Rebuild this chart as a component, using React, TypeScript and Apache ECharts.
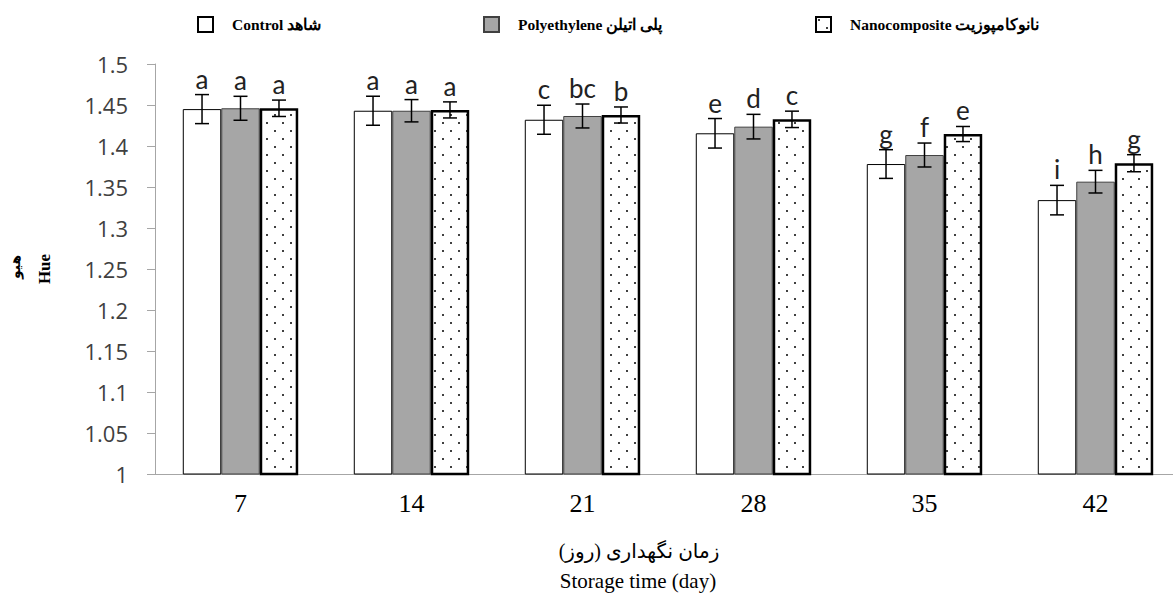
import React, { useEffect, useRef } from "react";
import * as echarts from "echarts";

const categories = ["7", "14", "21", "28", "35", "42"];
const seriesNames = ["Control شاهد", "Polyethylene پلی اتیلن", "Nanocomposite نانوکامپوزیت"];
const controlValues = [1.445, 1.443, 1.432, 1.4155, 1.378, 1.334];
const polyValues = [1.446, 1.443, 1.4366, 1.4236, 1.389, 1.3565];
const nanoValues = [1.446, 1.444, 1.4378, 1.4325, 1.4146, 1.379];
const controlErr = [0.0177, 0.0177, 0.0177, 0.018, 0.0175, 0.018];
const polyErr = [0.0146, 0.0136, 0.0146, 0.015, 0.0146, 0.0138];
const nanoErr = [0.01, 0.0098, 0.0098, 0.01, 0.0092, 0.0104];
const controlLetters = ["a", "a", "c", "e", "g", "i"];
const polyLetters = ["a", "a", "bc", "d", "f", "h"];
const nanoLetters = ["a", "a", "b", "c", "e", "g"];
const yTicks = { min: 1, max: 1.5, interval: 0.05 };

const allValues = [controlValues, polyValues, nanoValues];
const allErr = [controlErr, polyErr, nanoErr];
const allLetters = [controlLetters, polyLetters, nanoLetters];

const dotSvg =
  "<svg xmlns='http://www.w3.org/2000/svg' width='16' height='16'><rect width='16' height='16' fill='white'/><circle cx='3' cy='3' r='1' fill='black'/><circle cx='11' cy='11' r='1' fill='black'/></svg>";
const dotUrl = "data:image/svg+xml;charset=utf-8," + encodeURIComponent(dotSvg);

const BAR_FRAC = 0.225;

export default function App() {
  const ref = useRef<HTMLDivElement>(null);
  useEffect(() => {
    document.body.style.margin = "0";
    document.body.style.overflow = "hidden";
    const chart = echarts.init(ref.current!, null, { renderer: "svg" });

    const errData: number[][] = [];
    for (let s = 0; s < 3; s++) {
      for (let c = 0; c < categories.length; c++) {
        errData.push([c, s, allValues[s][c], allErr[s][c]]);
      }
    }

    const itemStyles = [
      { color: "#ffffff", borderColor: "#000000", borderWidth: 1 },
      { color: "#a6a6a6", borderColor: "#404040", borderWidth: 1 },
      {
        color: { image: dotUrl, repeat: "repeat", imageWidth: 16, imageHeight: 16 },
        borderColor: "#000000",
        borderWidth: 2.5,
      },
    ];

    const legendBase = {
      top: 16,
      padding: 0,
      itemWidth: 15,
      itemHeight: 15,
      icon: "rect",
      textStyle: {
        fontFamily: "Liberation Serif",
        fontWeight: "bold",
        fontSize: 15.5,
        color: "#000",
        padding: [0, 0, 0, 14],
      },
    };

    const option: any = {
      animation: false,
      legend: [
        { ...legendBase, left: 197, data: [seriesNames[0]] },
        { ...legendBase, left: 483, data: [seriesNames[1]] },
        { ...legendBase, left: 815, data: [seriesNames[2]] },
      ],
      grid: { left: 155, top: 64, right: 0, bottom: 122 },
      xAxis: {
        type: "category",
        data: categories,
        axisLine: { lineStyle: { color: "#a6a6a6", width: 1 } },
        axisTick: { length: 9, lineStyle: { color: "#a6a6a6" } },
        axisLabel: {
          fontFamily: "Liberation Serif",
          fontSize: 26,
          color: "#000",
          margin: 16,
        },
      },
      yAxis: {
        type: "value",
        min: yTicks.min,
        max: yTicks.max,
        interval: yTicks.interval,
        splitLine: { show: false },
        axisLine: { show: true, lineStyle: { color: "#a6a6a6", width: 1 } },
        axisTick: { show: true, length: 8, lineStyle: { color: "#a6a6a6" } },
        axisLabel: {
          fontFamily: "Open Sans",
          fontSize: 22,
          color: "#404040",
          margin: 27,
          formatter: (v: number) => String(parseFloat(v.toFixed(2))),
        },
      },
      graphic: [
        {
          type: "text",
          x: 639,
          y: 551,
          style: {
            text: "زمان نگهداری (روز)",
            fontFamily: "Liberation Serif, DejaVu Sans",
            fontSize: 20,
            fill: "#000",
            align: "center",
            verticalAlign: "middle",
          },
        },
        {
          type: "text",
          x: 638,
          y: 581,
          style: {
            text: "Storage time (day)",
            fontFamily: "Liberation Serif",
            fontSize: 21,
            fill: "#000",
            align: "center",
            verticalAlign: "middle",
          },
        },
        {
          type: "text",
          x: 15,
          y: 267,
          rotation: Math.PI / 2,
          style: {
            text: "هیو",
            fontFamily: "DejaVu Sans",
            fontWeight: "bold",
            fontSize: 14,
            fill: "#000",
            align: "center",
            verticalAlign: "middle",
          },
        },
        {
          type: "text",
          x: 44,
          y: 269,
          rotation: Math.PI / 2,
          style: {
            text: "Hue",
            fontFamily: "Liberation Serif",
            fontWeight: "bold",
            fontSize: 17,
            fill: "#000",
            align: "center",
            verticalAlign: "middle",
          },
        },
      ],
      series: [
        ...allValues.map((vals, i) => ({
          type: "bar",
          name: seriesNames[i],
          data: vals,
          barWidth: BAR_FRAC * 100 + "%",
          barGap: "0%",
          itemStyle: itemStyles[i],
          emphasis: { disabled: true },
        })),
        {
          type: "custom",
          name: "errors",
          data: errData,
          z: 10,
          silent: true,
          renderItem: (params: any, api: any) => {
            const c = api.value(0);
            const s = api.value(1);
            const v = api.value(2);
            const e = api.value(3);
            const band = api.size([1, 0])[0];
            const bw = band * BAR_FRAC;
            const center = api.coord([c, v]);
            const x = center[0] + (s - 1) * bw;
            const yTop = api.coord([c, v + e])[1];
            const yBot = api.coord([c, v - e])[1];
            const cap = 7;
            const ls = { stroke: "#000", lineWidth: 1.5 };
            return {
              type: "group",
              children: [
                { type: "line", shape: { x1: x, y1: yTop, x2: x, y2: yBot }, style: ls },
                { type: "line", shape: { x1: x - cap, y1: yTop, x2: x + cap, y2: yTop }, style: ls },
                { type: "line", shape: { x1: x - cap, y1: yBot, x2: x + cap, y2: yBot }, style: ls },
                {
                  type: "text",
                  x: x,
                  y: yTop - 3,
                  style: {
                    text: allLetters[s][c],
                    fontFamily: "Lato",
                    fontSize: 26,
                    fill: "#222",
                    align: "center",
                    verticalAlign: "bottom",
                  },
                },
              ],
            };
          },
        },
      ],
    };
    chart.setOption(option);
    return () => chart.dispose();
  }, []);
  return <div ref={ref} style={{ width: 1181, height: 596 }} />;
}
